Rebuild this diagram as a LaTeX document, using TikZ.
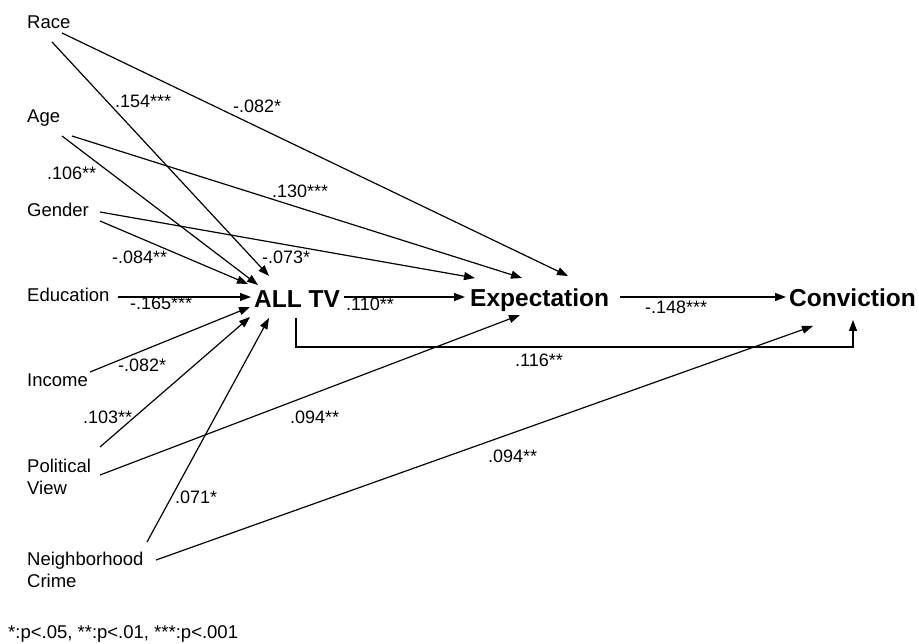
\documentclass[tikz,border=0pt]{standalone}
\usepackage{fontspec}
\setmainfont{Liberation Sans}
\usetikzlibrary{arrows.meta}
\begin{document}
\begin{tikzpicture}[x=1pt,y=-1pt,
  var/.style={anchor=base west,inner sep=0pt,font=\fontsize{18.5}{21.5}\selectfont,align=left},
  mainvar/.style={anchor=base west,inner sep=0pt,font=\fontsize{24.5}{29}\selectfont\bfseries},
  coef/.style={anchor=base west,inner sep=0pt,font=\fontsize{18}{21}\selectfont},
  arr/.style={line width=1.2pt,-{Triangle[length=11pt,width=8pt]}},
  ln/.style={line width=1.2pt}]
\useasboundingbox[fill=white] (0,0) rectangle (919,644);
% variable nodes
\node[var] (race) at (27,29) {Race};
\node[var] (age) at (27,123) {Age};
\node[var] (gender) at (27,217) {Gender};
\node[var] (educ) at (27,302) {Education};
\node[var] (income) at (27,387) {Income};
\node[var] (polit) at (27,494) {Political\\View};
\node[var] (neigh) at (27,587) {Neighborhood\\Crime};
\node[mainvar] (alltv) at (254,308) {ALL TV};
\node[mainvar] (expect) at (470,307) {Expectation};
\node[mainvar] (conv) at (789,307) {Conviction};
\node[var] (note) at (8,638) {*:p<.05, **:p<.01, ***:p<.001};
% connector ends
\coordinate (raceA) at (52,42);
\coordinate (raceE) at (62,33);
\coordinate (ageA) at (62,136);
\coordinate (ageE) at (72,136);
\coordinate (genE) at (100,212);
\coordinate (genA) at (100,221);
\coordinate (eduA) at (118,297);
\coordinate (incA) at (90,372);
\coordinate (polA) at (100,447);
\coordinate (polE) at (100,475);
\coordinate (neiA) at (147,542);
\coordinate (neiC) at (156,560);
\coordinate (tvRace) at (269,276);
\coordinate (tvAge) at (258,285);
\coordinate (tvGen) at (248,284);
\coordinate (tvEdu) at (251,297);
\coordinate (tvInc) at (250,307);
\coordinate (tvPol) at (250,317);
\coordinate (tvNei) at (269,318);
\coordinate (tvOut) at (344,297);
\coordinate (tvDown) at (296,318);
\coordinate (exIn) at (465,297);
\coordinate (exGen) at (475,278);
\coordinate (exAge) at (522,278);
\coordinate (exRace) at (568,276);
\coordinate (exPol) at (520,315);
\coordinate (exOut) at (620,297);
\coordinate (cvIn) at (786,297);
\coordinate (cvNei) at (813,326);
\coordinate (cvUp) at (853,320);
\coordinate (bend) at (0,347);
% connectors
\draw[arr] (raceA) -- (tvRace);
\draw[arr] (raceE) -- (exRace);
\draw[arr] (ageA) -- (tvAge);
\draw[arr] (ageE) -- (exAge);
\draw[arr] (genE) -- (exGen);
\draw[arr] (genA) -- (tvGen);
\draw[arr] (eduA) -- (tvEdu);
\draw[arr] (incA) -- (tvInc);
\draw[arr] (polA) -- (tvPol);
\draw[arr] (polE) -- (exPol);
\draw[arr] (neiA) -- (tvNei);
\draw[arr] (neiC) -- (cvNei);
\draw[arr] (tvOut) -- (exIn);
\draw[arr] (exOut) -- (cvIn);
\draw[arr] (tvDown) -- (tvDown |- bend) -| (cvUp);
% coefficients
\node[coef] (c1) at (115,108) {.154***};
\node[coef] (c2) at (233,113) {-.082*};
\node[coef] (c3) at (47,180) {.106**};
\node[coef] (c4) at (272,198) {.130***};
\node[coef] (c5) at (112,264) {-.084**};
\node[coef] (c6) at (262,264) {-.073*};
\node[coef] (c7) at (130,310) {-.165***};
\node[coef] (c8) at (118,372) {-.082*};
\node[coef] (c9) at (83,424) {.103**};
\node[coef] (c10) at (290,424) {.094**};
\node[coef] (c11) at (175,503) {.071*};
\node[coef] (c12) at (488,462) {.094**};
\node[coef] (c13) at (515,367) {.116**};
\node[coef] (c14) at (346,311) {.110**};
\node[coef] (c15) at (645,314) {-.148***};
\end{tikzpicture}
\end{document}
